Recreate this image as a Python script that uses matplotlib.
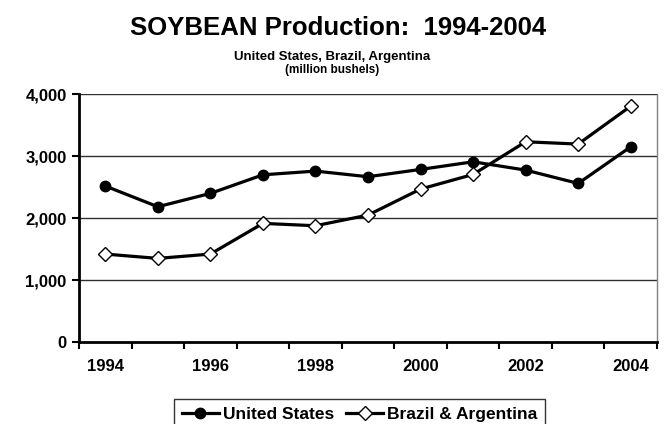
import matplotlib
matplotlib.use("Agg")
import matplotlib.pyplot as plt

plt.rcParams['font.family'] = ['Liberation Sans', 'DejaVu Sans']

# dados (milhões de bushels)
anos = [1994, 1995, 1996, 1997, 1998, 1999, 2000, 2001, 2002, 2003, 2004]
estados_unidos = [2517, 2183, 2398, 2698, 2758, 2667, 2785, 2908, 2774, 2559, 3150]
brasil_argentina = [1419, 1349, 1419, 1914, 1876, 2048, 2468, 2704, 3231, 3194, 3806]
y_ticks = [0, 1000, 2000, 3000, 4000]

fig = plt.figure(figsize=(6.65, 4.24), dpi=100)
ax = fig.add_axes([0.1188, 0.1934, 0.8692, 0.5846])

x = list(range(len(anos)))
ax.plot(x, estados_unidos, color='black', lw=2.3, marker='o', ms=7.5,
        mfc='black', mec='black', label='United States', zorder=3)
ax.plot(x, brasil_argentina, color='black', lw=2.3, marker='D', ms=7,
        mfc='white', mec='black', mew=1.0, label='Brazil & Argentina', zorder=3)

ax.set_xlim(-0.5, len(anos) - 0.5)
ax.set_ylim(0, 4000)
ax.set_yticks(y_ticks)
ax.set_yticklabels([f'{v:,}' for v in y_ticks], fontweight='bold', fontsize=12)
ax.set_xticks(x[::2])
ax.set_xticklabels([str(a) for a in anos[::2]], fontweight='bold', fontsize=12)
ax.set_xticks([i - 0.5 for i in range(len(anos) + 1)], minor=True)
ax.tick_params(axis='x', which='major', length=0, pad=12)
ax.tick_params(axis='x', which='minor', length=5, width=1.5, direction='out')
ax.tick_params(axis='y', length=5, width=1.5, direction='out', pad=4)

for v in y_ticks[1:]:
    ax.axhline(v, color='#303030', lw=1.0, zorder=1)

ax.spines['left'].set_linewidth(2)
ax.spines['bottom'].set_linewidth(2)
ax.spines['right'].set_color('#808080')
ax.spines['right'].set_linewidth(1)
ax.spines['top'].set_visible(False)

fig.text(0.509, 0.935, 'SOYBEAN Production:  1994-2004', ha='center', va='center',
         fontsize=18.5, fontweight='bold')
fig.text(0.5, 0.866, 'United States, Brazil, Argentina', ha='center', va='center',
         fontsize=9.5, fontweight='bold')
fig.text(0.5, 0.834, '(million bushels)', ha='center', va='center',
         fontsize=8.5, fontweight='bold')

leg = fig.legend(loc='center', bbox_to_anchor=(0.541, 0.022), ncol=2,
                 frameon=True, fancybox=False, edgecolor='black',
                 prop={'weight': 'bold', 'size': 12.5}, handlelength=2.1,
                 columnspacing=0.7, handletextpad=0.25, borderpad=0.45,
                 borderaxespad=0.0)
leg.get_frame().set_linewidth(1.0)

plt.savefig('out.png', dpi=100)
